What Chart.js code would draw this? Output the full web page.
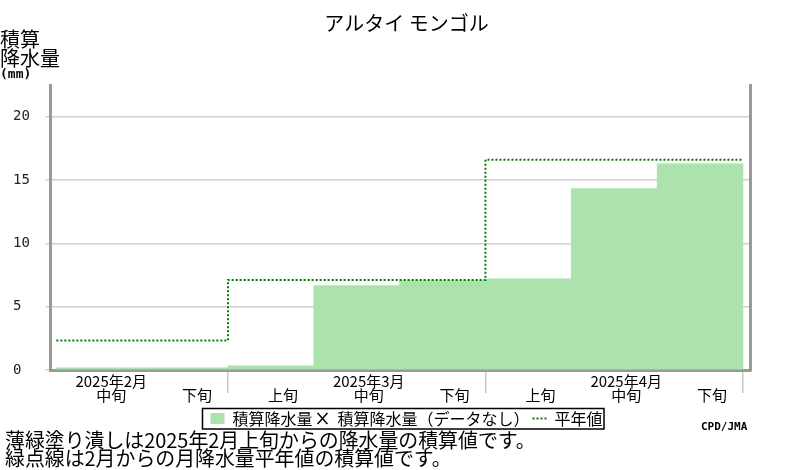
<!DOCTYPE html>
<html><head><meta charset="utf-8">
<script src="https://cdn.jsdelivr.net/npm/chart.js@4/dist/chart.umd.min.js"></script>
<style>
html,body{margin:0;padding:0;background:#fff;}
#wrap{position:relative;width:800px;height:470px;overflow:hidden;}
canvas{position:absolute;left:0;top:0;}
.t{position:absolute;white-space:nowrap;color:#000;font-family:"Noto Sans CJK JP";}
</style></head><body>
<div id="wrap">
<canvas id="c" width="800" height="470"></canvas>
<div class="t" id="ylab" style="left:0;top:29px;font-size:20px;line-height:19px;">積算<br>降水量</div>
<div class="t" id="yunit" style="left:0;top:67px;font:bold 13px/13px 'DejaVu Sans Mono';">(mm)</div>
<div class="t" id="note" style="left:5px;top:431px;font-size:19.9px;line-height:18px;">薄緑塗り潰しは2025年2月上旬からの降水量の積算値です。<br>緑点線は2月からの月降水量平年値の積算値です。</div>
<div class="t" id="cpd" style="left:701px;top:421px;font:bold 11px/11px 'DejaVu Sans Mono';">CPD/JMA</div>
</div>
<script>
// ---- data ----
const titleText = 'アルタイ モンゴル';
const monthLabels = ['2025年2月', '2025年3月', '2025年4月'];
const decadeLabels = ['中旬', '下旬', '上旬', '中旬', '下旬', '上旬', '中旬', '下旬'];
const decadeMonth = [0, 0, 1, 1, 1, 2, 2, 2];
const accumPrecip = [0.18, 0.18, 0.33, 6.66, 7.06, 7.19, 14.33, 16.28];
const normalAccum = [2.32, 7.11, 16.6];
const legendLabels = ['積算降水量', '積算降水量（データなし）', '平年値'];
const yTicks = [0, 5, 10, 15, 20];

// ---- styles ----
const barColor = '#ace3ac';
const normColor = '#008000';
const cjk = 'Noto Sans CJK JP';

// ---- derived from data ----
const monthStart = monthLabels.map((m, i) => decadeMonth.indexOf(i));
const lastIdx = decadeLabels.length - 1;
const barPoints = accumPrecip.map((v, i) => ({x: i, y: v}));
const normalPoints = normalAccum.map((v, i) => ({x: monthStart[i] - 0.5, y: v}));
normalPoints.push({x: lastIdx + 0.5, y: normalAccum[normalAccum.length - 1]});
const boundaries = monthStart.slice(1).map(s => s - 0.5).concat([lastIdx + 0.5]);
const xTickValues = decadeLabels.map((d, i) => i).concat(boundaries);

const legendFrame = {
  id: 'legendFrame',
  afterDraw(chart) {
    const hb = chart.legend && chart.legend.legendHitBoxes;
    if (!hb || !hb.length) return;
    const ctx = chart.ctx;
    const l = Math.min(...hb.map(h => h.left)) - 8;
    const r = Math.max(...hb.map(h => h.left + h.width)) + 1.5;
    const t = hb[0].top - 2;
    const b = hb[0].top + hb[0].height + 2.5;
    ctx.save();
    ctx.strokeStyle = '#000';
    ctx.lineWidth = 1.5;
    ctx.strokeRect(l, t, r - l, b - t);
    ctx.restore();
  }
};

new Chart(document.getElementById('c'), {
  data: {
    datasets: [
      {
        type: 'line', label: legendLabels[2], data: normalPoints,
        stepped: 'before', borderColor: normColor, borderWidth: 2, borderDash: [2, 2],
        pointRadius: 0, fill: false, xAxisID: 'x', yAxisID: 'y'
      },
      {
        type: 'bar', label: legendLabels[0], data: barPoints,
        backgroundColor: barColor, borderWidth: 0,
        barPercentage: 1, categoryPercentage: 1, barThickness: 'flex',
        xAxisID: 'x', yAxisID: 'y'
      }
    ]
  },
  options: {
    responsive: false,
    animation: false,
    layout: {padding: {left: 13, right: 0, top: 0, bottom: 33.5}},
    scales: {
      x: {
        type: 'linear', min: -0.568, max: 7.588, offset: false,
        afterBuildTicks: s => { s.ticks = xTickValues.map(v => ({value: v})); },
        afterFit: s => { s.height = 37.5; },
        ticks: {
          autoSkip: false, maxRotation: 0, minRotation: 0,
          padding: -18.5, labelOffset: 12, color: '#000',
          font: {family: cjk, size: 15, lineHeight: '14px'},
          callback: (value) => {
            if (Number.isInteger(value)) {
              const mid = decadeLabels[value] === '中旬';
              return [mid ? monthLabels[decadeMonth[value]] : '', decadeLabels[value]];
            }
            return '';
          }
        },
        grid: {
          offset: false,
          drawOnChartArea: false, drawTicks: true, tickLength: 23, lineWidth: 1.5,
          color: (c) => (c.tick && !Number.isInteger(c.tick.value)) ? '#c8c8c8' : 'rgba(0,0,0,0)'
        },
        border: {display: true, color: '#999', width: 3}
      },
      y: {
        type: 'linear', position: 'left', min: 0, max: 22.5,
        afterBuildTicks: s => { s.ticks = yTicks.map(v => ({value: v})); },
        afterFit: s => { s.width = 37.5; },
        ticks: {
          crossAlign: 'far', color: '#222', padding: 4,
          font: {family: 'DejaVu Sans Mono', size: 14}
        },
        grid: {color: '#d0d0d0', lineWidth: 1.5, tickLength: 5},
        border: {display: true, color: '#999', width: 3}
      },
      yR: {
        type: 'linear', position: 'right', min: 0, max: 22.5,
        afterFit: s => { s.width = 49.5; },
        ticks: {display: false},
        grid: {display: false, drawTicks: false},
        border: {display: true, color: '#999', width: 3}
      }
    },
    plugins: {
      title: {
        display: true, text: titleText, color: '#000',
        font: {family: cjk, size: 20, weight: 'normal', lineHeight: 1},
        padding: {top: 13, bottom: 52}
      },
      legend: {
        display: true, position: 'bottom', align: 'center',
        onClick: null,
        labels: {
          usePointStyle: true, pointStyleWidth: 14, boxHeight: 11, padding: 3,
          color: '#000', font: {family: cjk, size: 16},
          generateLabels: () => [
            {text: legendLabels[0], fillStyle: barColor, strokeStyle: barColor, lineWidth: 0, pointStyle: 'rect', hidden: false},
            {text: legendLabels[1], fillStyle: '#000', strokeStyle: '#000', lineWidth: 1.5, pointStyle: 'crossRot', hidden: false},
            {text: legendLabels[2], fillStyle: normColor, strokeStyle: normColor, lineWidth: 2, lineDash: [2, 2], pointStyle: 'line', hidden: false}
          ]
        }
      },
      tooltip: {enabled: false}
    }
  },
  plugins: [legendFrame]
});
</script>
</body></html>
